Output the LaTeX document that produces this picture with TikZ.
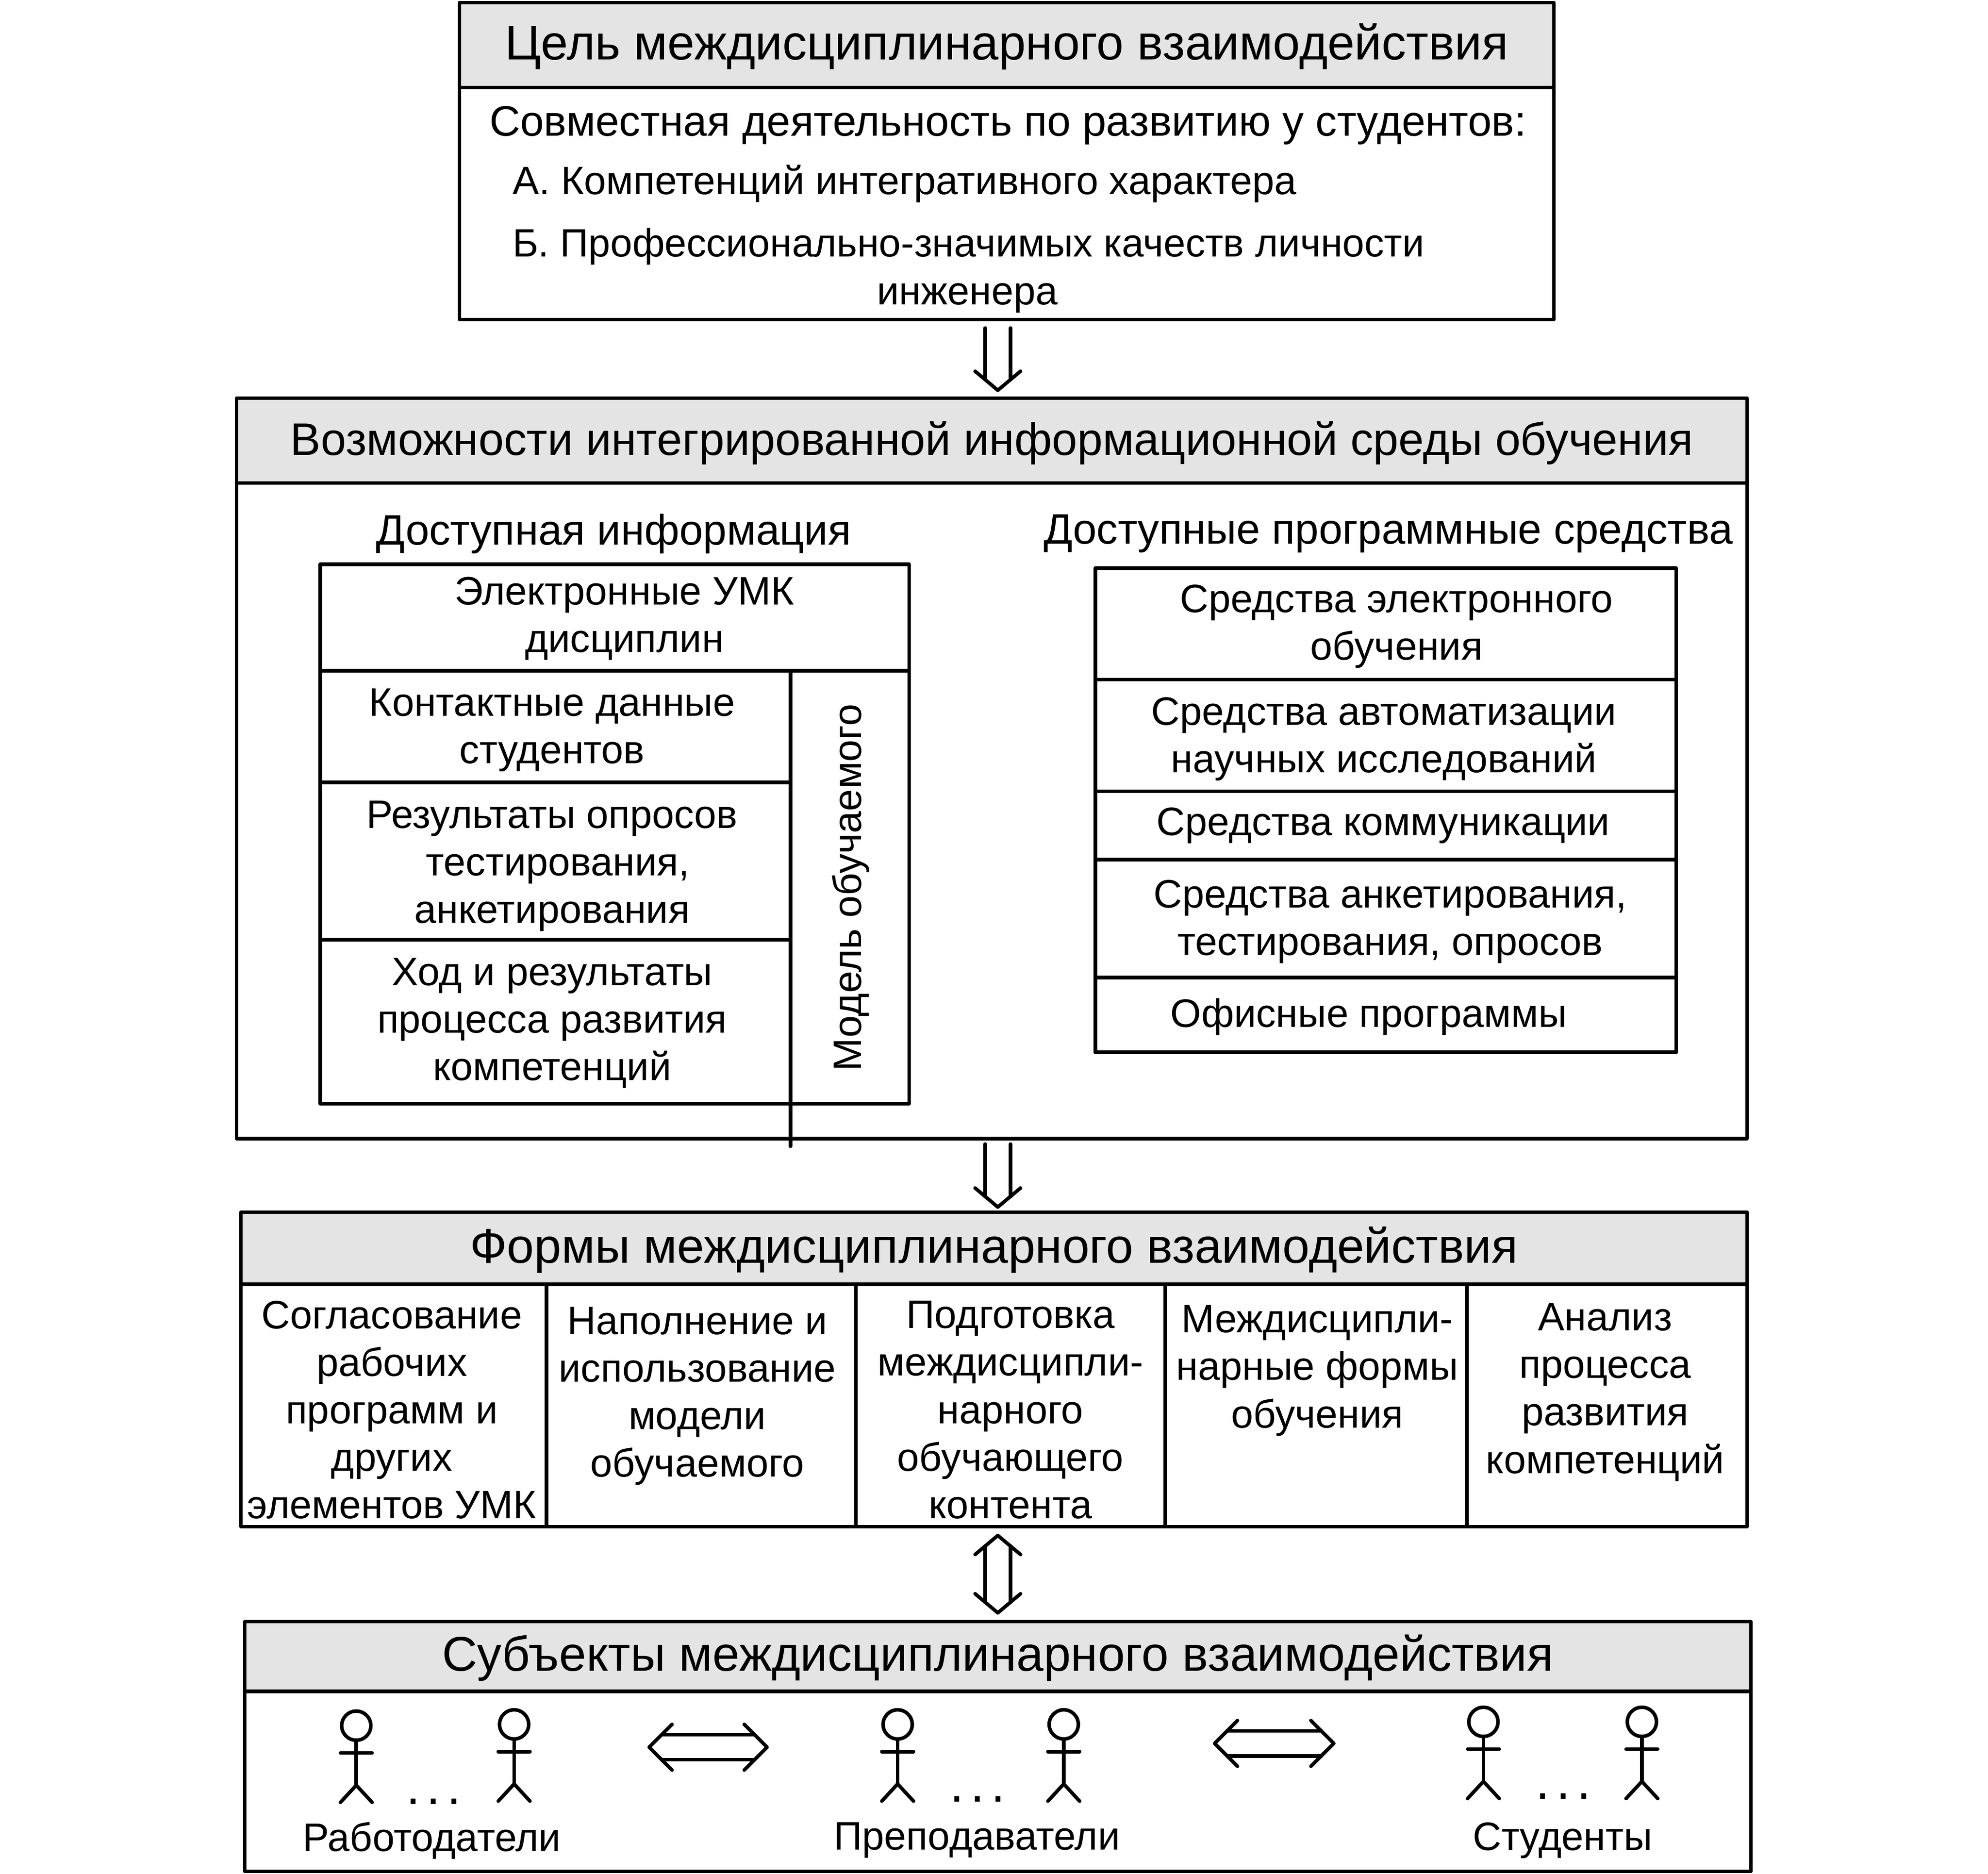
\documentclass[tikz,border=0pt]{standalone}
\usepackage{fontspec}
\setmainfont{Liberation Sans}
\usetikzlibrary{calc}
\definecolor{headgray}{HTML}{E4E4E4}
\newcommand{\openhead}[4]{\draw[dblline] ($(#2)!#4!#3:(#1)$) -- (#2) -- ($(#2)!#4!-#3:(#1)$);}
\tikzset{
    frame/.style={draw, fill=white, line width=2.8pt, line join=round, inner sep=0pt},
    headbox/.style={frame, fill=headgray, text height=31pt, text depth=8pt, font=\fontsize{38.5}{44}\selectfont},
    txt/.style={inner sep=0pt, align=center, yshift=-3pt, font=\fontsize{31.3}{37.5}\selectfont},
    bigtxt/.style={txt, font=\fontsize{33.6}{37.5}\selectfont},
    dots/.style={inner sep=0pt, anchor=base, font=\fontsize{40}{44}\selectfont},
    dblline/.style={line width=2.8pt, line cap=round, line join=round},
    person/.pic={
        \draw[dblline] (0,0) circle (11.5pt);
        \draw[dblline] (0,11.5) -- (0,47);
        \draw[dblline] (-12.5,21.5) -- (12.5,21.5);
        \draw[dblline] (-12.5,60.5) -- (0,47) -- (12.5,60.5);
    }
}
\begin{document}
\begin{tikzpicture}[x=1pt, y=-1pt]
\useasboundingbox (0,0) rectangle (1568,1478);

% goal
\node[frame, minimum width=863pt, minimum height=183pt] (goalbody) at (794,160.5) {};
\node[headbox, minimum width=863pt, minimum height=67pt] (goalhead) at (794,35.5) {Цель междисциплинарного взаимодействия};
\node[bigtxt] (goalintro) at (795,96) {Совместная деятельность по развитию у студентов:};
\node[txt, anchor=west] (goala) at (404,142) {А. Компетенций интегративного характера};
\node[txt, anchor=west, font=\fontsize{31.1}{37.5}\selectfont] (goalb) at (404,191.5) {Б. Профессионально-значимых качеств личности};
\node[txt] (goalc) at (763,232) {инженера};

% environment
\node[frame, minimum width=1191.5pt, minimum height=517pt] (envbody) at (782.25,639.5) {};
\node[headbox, minimum width=1191.5pt, minimum height=67pt, font=\fontsize{36}{44}\selectfont] (envhead) at (782.25,347.5) {Возможности интегрированной информационной среды обучения};
\node[bigtxt] (infotitle) at (484,418) {Доступная информация};
\node[bigtxt] (softtitle) at (1095,418) {Доступные программные средства};

% information table
\node[frame, minimum width=464.5pt, minimum height=84pt] (umk) at (484.75,487) {};
\node[frame, minimum width=371pt, minimum height=88pt] (contact) at (438,573) {};
\node[frame, minimum width=371pt, minimum height=124pt] (results) at (438,679) {};
\node[frame, minimum width=371pt, minimum height=129.5pt] (progress) at (438,805.75) {};
\node[frame, minimum width=93.5pt, minimum height=341.5pt] (model) at (670.25,699.75) {};
\coordinate (modelend) at (623.5,904);
\draw[dblline] (modelend |- model.south) -- (modelend);
\node[txt] (umktext) at (492.5,485) {Электронные УМК\\дисциплин};
\node[txt] (contacttext) at (435.5,573) {Контактные данные\\студентов};
\node[txt] (resultstext) at (435.5,680) {Результаты опросов\\\hspace*{9pt}тестирования,\\анкетирования};
\node[txt] (progresstext) at (435.5,804) {Ход и результаты\\процесса развития\\компетенций};
\node[txt, rotate=90] (modeltext) at (671,697) {Модель обучаемого};

% software table
\node[frame, minimum width=458pt, minimum height=88pt] (elearn) at (1093,492) {};
\node[frame, minimum width=458pt, minimum height=88pt] (autom) at (1093,580) {};
\node[frame, minimum width=458pt, minimum height=54pt] (commun) at (1093,651) {};
\node[frame, minimum width=458pt, minimum height=93pt] (survey) at (1093,724.5) {};
\node[frame, minimum width=458pt, minimum height=59pt] (office) at (1093,800.5) {};
\node[txt] (elearntext) at (1101.5,491) {Средства электронного\\обучения};
\node[txt] (automtext) at (1091.5,580) {Средства автоматизации\\научных исследований};
\node[txt] (communtext) at (1091,648) {Средства коммуникации};
\node[txt] (surveytext) at (1096.5,724) {Средства анкетирования,\\тестирования, опросов};
\node[txt] (officetext) at (1079.5,799) {Офисные программы};

% forms
\node[headbox, minimum width=1188pt, minimum height=57pt] (formhead) at (784,984.5) {Формы междисциплинарного взаимодействия};
\node[frame, minimum width=241pt, minimum height=191pt] (form1) at (310.5,1108.5) {};
\node[frame, minimum width=244pt, minimum height=191pt] (form2) at (553,1108.5) {};
\node[frame, minimum width=244pt, minimum height=191pt] (form3) at (797,1108.5) {};
\node[frame, minimum width=238pt, minimum height=191pt] (form4) at (1038,1108.5) {};
\node[frame, minimum width=221pt, minimum height=191pt] (form5) at (1267.5,1108.5) {};
\node[txt] (form1text) at (309,1109) {Согласование\\рабочих\\программ и\\других\\элементов УМК};
\node[txt] (form2text) at (550,1098) {Наполнение и\\использование\\модели\\обучаемого};
\node[txt] (form3text) at (797,1109) {Подготовка\\междисципли-\\нарного\\обучающего\\контента};
\node[txt] (form4text) at (1039,1078) {Междисципли-\\нарные формы\\обучения};
\node[txt] (form5text) at (1266,1095) {Анализ\\процесса\\развития\\компетенций};

% subjects
\node[frame, minimum width=1188pt, minimum height=142pt] (subjbody) at (787,1405) {};
\node[headbox, minimum width=1188pt, minimum height=55pt] (subjhead) at (787,1306.5) {Субъекты междисциплинарного взаимодействия};
\pic (emp1) at (281,1361) {person};
\pic (emp2) at (405.5,1360) {person};
\pic (tea1) at (708,1360) {person};
\pic (tea2) at (839,1360) {person};
\pic (stu1) at (1170,1358) {person};
\pic (stu2) at (1295,1358) {person};
\node[dots] (empdots) at (342,1423) {.\kern5pt.\kern5pt.};
\node[dots] (teadots) at (771,1421) {.\kern5pt.\kern5pt.};
\node[dots] (studots) at (1233,1419) {.\kern5pt.\kern5pt.};
\node[txt] (emplabel) at (340.5,1448.5) {Работодатели};
\node[txt] (tealabel) at (770.5,1448.5) {Преподаватели};
\node[txt] (stulabel) at (1232.5,1448.5) {Студенты};

% arrows
\coordinate (down1a) at (787,258.7);
\coordinate (down1b) at (787,307.8);
\coordinate (down2a) at (787,902.3);
\coordinate (down2b) at (787,952);
\coordinate (vert1a) at (787,1211);
\coordinate (vert1b) at (787,1272);
\coordinate (hor1a) at (512,1378);
\coordinate (hor1b) at (605,1378);
\coordinate (hor2a) at (958,1375);
\coordinate (hor2b) at (1052,1375);
\foreach \a/\b in {down1a/down1b, down2a/down2b} {
    \draw[dblline] ([xshift=-10pt]\a) -- ([xshift=-10pt,yshift=8.3pt]\b);
    \draw[dblline] ([xshift=10pt]\a) -- ([xshift=10pt,yshift=8.3pt]\b);
    \openhead{\a}{\b}{50}{23.4pt}
}
\draw[dblline] ($(vert1a)!13pt!50:(vert1b)$) -- ($(vert1b)!13pt!-50:(vert1a)$);
\draw[dblline] ($(vert1a)!13pt!-50:(vert1b)$) -- ($(vert1b)!13pt!50:(vert1a)$);
\openhead{vert1a}{vert1b}{50}{23.4pt}
\openhead{vert1b}{vert1a}{50}{23.4pt}
\foreach \a/\b in {hor1a/hor1b, hor2a/hor2b} {
    \draw[dblline] ($(\a)!14pt!45:(\b)$) -- ($(\b)!14pt!-45:(\a)$);
    \draw[dblline] ($(\a)!14pt!-45:(\b)$) -- ($(\b)!14pt!45:(\a)$);
    \openhead{\a}{\b}{45}{25.5pt}
    \openhead{\b}{\a}{45}{25.5pt}
}
\end{tikzpicture}
\end{document}
